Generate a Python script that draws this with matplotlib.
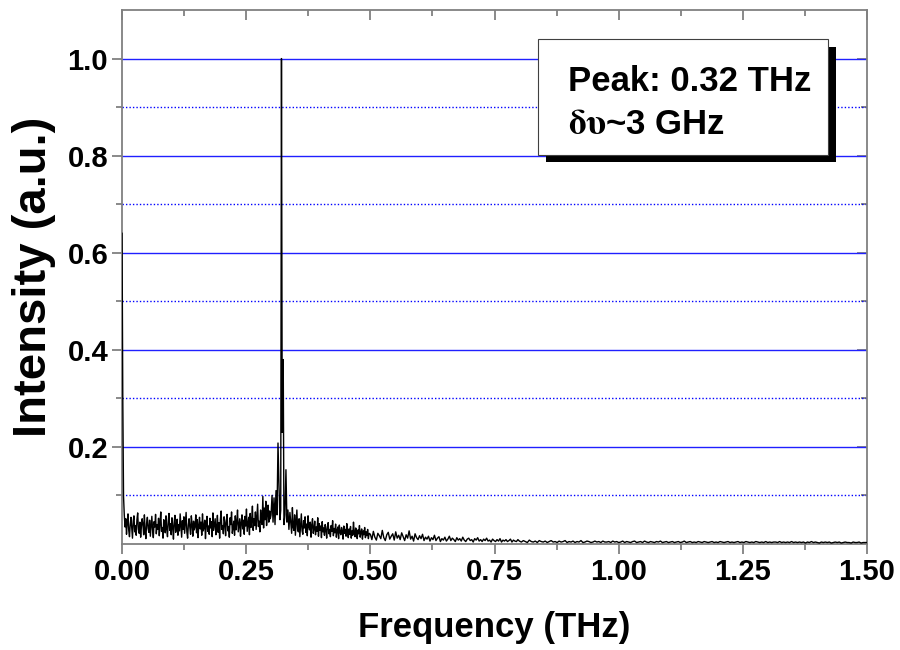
import numpy as np
import matplotlib.pyplot as plt
from matplotlib.patches import Rectangle
from matplotlib.ticker import MultipleLocator, FixedLocator

plt.rcParams['font.family'] = ['Liberation Sans', 'DejaVu Sans']
plt.rcParams['font.weight'] = 'bold'
plt.rcParams['mathtext.fontset'] = 'stix'

# spectrum, intensity in units of 1e-3
# 0.0000 - 0.2985 THz, step 0.0015
low_start, low_step = 0.0, 0.0015
low_band = [
    640, 300, 98, 60, 35, 52, 20, 44, 62, 28, 15, 40, 55, 33, 12, 47, 58, 25, 38, 18,
    50, 64, 30, 22, 45, 14, 36, 52, 41, 19, 60, 27, 11, 43, 55, 32, 24, 49, 16, 38,
    57, 29, 13, 46, 35, 61, 21, 40, 30, 53, 17, 44, 66, 26, 34, 12, 50, 39, 23, 58,
    31, 15, 47, 63, 28, 42, 19, 54, 36, 10, 45, 59, 24, 33, 51, 18, 40, 27, 62, 37,
    14, 48, 30, 56, 22, 43, 65, 25, 12, 39, 52, 34, 20, 58, 41, 16, 47, 29, 36, 60,
    23, 50, 13, 38, 55, 31, 45, 18, 62, 27, 35, 49, 11, 42, 57, 26, 37, 20, 53, 33,
    46, 15, 64, 28, 40, 52, 19, 35, 59, 24, 44, 12, 50, 68, 30, 38, 21, 56, 43, 17,
    48, 61, 27, 36, 14, 54, 40, 66, 22, 33, 47, 18, 58, 29, 45, 70, 25, 39, 52, 16,
    43, 60, 31, 49, 20, 57, 37, 72, 26, 41, 55, 19, 63, 34, 48, 78, 28, 52, 38, 66,
    30, 58, 82, 36, 47, 25, 70, 45, 40, 98, 33, 74, 50, 88, 38, 62, 80, 45, 68, 52,
]
# around the line
peak_freq = [0.300, 0.302, 0.304, 0.306, 0.308, 0.310, 0.312, 0.314, 0.316, 0.318,
             0.3195, 0.321, 0.3225, 0.3245, 0.326, 0.328, 0.330, 0.332, 0.334, 0.336, 0.338]
peak_band = [60, 100, 45, 95, 40, 110, 60, 208, 120, 50,
             70, 1000, 230, 380, 40, 60, 153, 45, 70, 30, 65]
# 0.3400 - 0.4975 THz, step 0.0015
mid_start, mid_step = 0.340, 0.0015
mid_band = [
    40, 22, 75, 35, 28, 60, 18, 44, 70, 30, 25, 52, 15, 38, 62, 27, 20, 48, 33, 56,
    24, 41, 17, 58, 36, 29, 45, 14, 39, 52, 22, 31, 47, 19, 35, 26, 54, 16, 42, 28,
    37, 13, 46, 25, 33, 18, 40, 29, 12, 36, 44, 21, 30, 15, 38, 26, 48, 17, 32, 23,
    41, 14, 28, 35, 11, 39, 24, 19, 34, 27, 10, 37, 22, 30, 16, 42, 25, 13, 31, 20,
    36, 12, 27, 18, 45, 23, 15, 33, 26, 11, 29, 21, 38, 14, 24, 31, 10, 27, 19, 34,
    13, 25, 17, 30, 11, 22,
]
# 0.500 - 0.797 THz, step 0.003
tail1_start, tail1_step = 0.500, 0.003
tail1_band = [
    20, 9, 26, 14, 8, 22, 17, 11, 28, 13, 7, 19, 24, 10, 16, 21, 8, 25, 12, 18,
    9, 23, 15, 7, 19, 12, 27, 10, 16, 6, 21, 13, 9, 17, 11, 20, 7, 14, 10, 16,
    6, 13, 9, 18, 7, 12, 15, 5, 11, 8, 14, 6, 10, 16, 7, 12, 9, 5, 13, 8,
    11, 6, 14, 8, 5, 10, 12, 7, 9, 4, 11, 8, 13, 6, 9, 5, 10, 7, 12, 6,
    8, 4, 10, 7, 5, 9, 6, 11, 4, 8, 6, 9, 5, 7, 10, 4, 8, 6, 5, 9,
]
# 0.800 - 1.500 THz, step 0.004
tail2_start, tail2_step = 0.800, 0.004
tail2_band = [
    6, 4, 7, 5, 3, 8, 5, 4, 6, 3, 7, 5, 4, 6, 3, 5, 7, 4, 5, 3,
    6, 4, 5, 7, 3, 5, 4, 6, 3, 5, 4, 7, 3, 4, 6, 5, 3, 4, 6, 4,
    5, 3, 6, 4, 4, 5, 3, 6, 4, 5, 3, 4, 6, 3, 5, 4, 3, 5, 6, 3,
    4, 5, 3, 6, 4, 3, 5, 4, 3, 5, 4, 6, 3, 4, 5, 3, 4, 5, 3, 4,
    5, 3, 4, 6, 3, 4, 5, 3, 4, 3, 5, 4, 3, 5, 4, 3, 4, 5, 3, 4,
    3, 5, 4, 3, 4, 5, 3, 4, 3, 4, 5, 3, 4, 3, 5, 4, 3, 4, 3, 5,
    4, 3, 4, 3, 5, 3, 4, 3, 4, 4, 3, 5, 3, 4, 3, 4, 3, 5, 3, 4,
    3, 4, 3, 4, 2, 4, 3, 5, 3, 4, 3, 2, 4, 3, 4, 3, 4, 2, 3, 4,
    3, 4, 2, 3, 4, 3, 3, 2, 4, 3, 3, 4, 2, 3, 3, 3,
]

freq = np.concatenate([
    low_start + low_step * np.arange(len(low_band)),
    peak_freq,
    mid_start + mid_step * np.arange(len(mid_band)),
    tail1_start + tail1_step * np.arange(len(tail1_band)),
    tail2_start + tail2_step * np.arange(len(tail2_band)),
])
inten = np.concatenate([low_band, peak_band, mid_band, tail1_band, tail2_band]) / 1000.0

fig = plt.figure(figsize=(9, 6.5), dpi=100)
ax = fig.add_axes([0.1356, 0.1631, 0.8278, 0.8215])

ax.plot(freq, inten, color='black', linewidth=1.0, zorder=3)

ax.set_xlim(0, 1.5)
ax.set_ylim(0, 1.1)

yt_major = [0.2, 0.4, 0.6, 0.8, 1.0]
yt_minor = [0.1, 0.3, 0.5, 0.7, 0.9]
ax.xaxis.set_major_locator(MultipleLocator(0.25))
ax.xaxis.set_minor_locator(MultipleLocator(0.125))
ax.yaxis.set_major_locator(FixedLocator(yt_major))
ax.yaxis.set_minor_locator(FixedLocator(yt_minor))
ax.xaxis.set_major_formatter(plt.FormatStrFormatter('%.2f'))
ax.yaxis.set_major_formatter(plt.FormatStrFormatter('%.1f'))

# grid lines in blue: solid at major, dotted at minor
ax.grid(True, which='major', axis='y', color='#2020ff', linewidth=1.0, linestyle='-')
ax.grid(True, which='minor', axis='y', color='#0000ff', linewidth=1.0, linestyle=(0, (1, 1.5)))
ax.set_axisbelow(True)

for s in ax.spines.values():
    s.set_color('#808080')
    s.set_linewidth(1.3)

ax.tick_params(which='both', direction='out', color='#808080', width=1.3,
               labelsize=21, pad=3)
ax.tick_params(which='major', length=7)
ax.tick_params(which='minor', length=4)

# mirrored ticks pointing inward on top and right
top = ax.secondary_xaxis('top')
top.xaxis.set_major_locator(MultipleLocator(0.25))
top.xaxis.set_minor_locator(MultipleLocator(0.125))
top.tick_params(which='both', direction='in', color='#808080', width=1.3, labeltop=False)
top.tick_params(which='major', length=7)
top.tick_params(which='minor', length=4)
top.spines['top'].set_visible(False)
right = ax.secondary_yaxis('right')
right.yaxis.set_major_locator(FixedLocator(yt_major))
right.yaxis.set_minor_locator(FixedLocator(yt_minor))
right.tick_params(which='both', direction='in', color='#808080', width=1.3, labelright=False)
right.tick_params(which='major', length=7)
right.tick_params(which='minor', length=4)
right.spines['right'].set_visible(False)

ax.set_xlabel('Frequency (THz)', fontsize=25, fontweight='bold', labelpad=18)
ax.set_ylabel('Intensity (a.u.)', fontsize=34, fontweight='bold', labelpad=8)

# text box with drop shadow
ax.add_patch(Rectangle((0.569, 0.7154), 0.389, 0.2153, transform=ax.transAxes,
                       facecolor='black', edgecolor='none', zorder=5))
ax.add_patch(Rectangle((0.5584, 0.7285), 0.3893, 0.2172, transform=ax.transAxes,
                       facecolor='white', edgecolor='#404040', linewidth=0.8, zorder=6))
ax.text(0.5987, 0.848, 'Peak: 0.32 THz', transform=ax.transAxes, fontsize=25,
        fontweight='bold', zorder=7)
ax.text(0.5987, 0.768, r'$\mathrm{\delta\upsilon}$~3 GHz', transform=ax.transAxes,
        fontsize=25, fontweight='bold', zorder=7)

plt.savefig('out.png', dpi=100)
